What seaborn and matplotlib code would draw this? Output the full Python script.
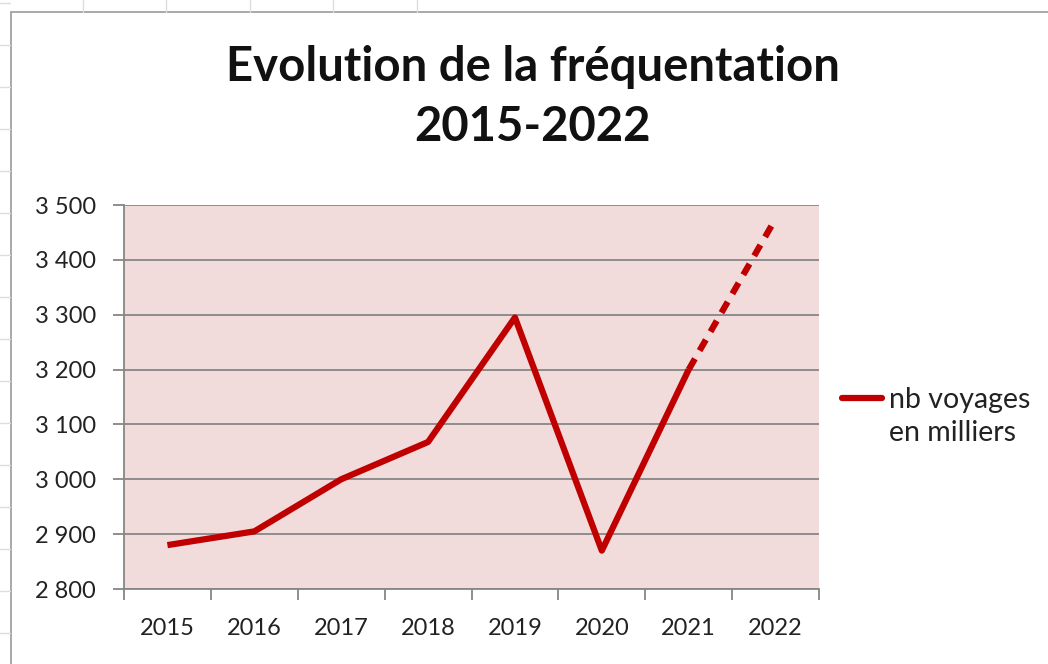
import matplotlib
matplotlib.use("Agg")
import matplotlib.pyplot as plt
import seaborn as sns
import numpy as np
import pandas as pd
from matplotlib.patches import Rectangle
from matplotlib.lines import Line2D
from matplotlib.ticker import FixedLocator, FuncFormatter

# ---- data ----
years = ["2015", "2016", "2017", "2018", "2019", "2020", "2021", "2022"]
voyages = [2880, 2905, 3000, 3068, 3295, 2870, 3200, 3475]
legend_lines = ["nb voyages", "en milliers"]
title = "Evolution de la fréquentation\n2015-2022"
y_ticks = [2800, 2900, 3000, 3100, 3200, 3300, 3400, 3500]

sns.set_theme(style="white")
plt.rcParams["font.family"] = ["Lato", "DejaVu Sans"]

W, H = 1048, 664
fig = plt.figure(figsize=(W / 100, H / 100), dpi=100)

# chart-area border and faint sheet gridline stubs
fig.patches.append(Rectangle((11 / W, -0.05), 1.2, 1 - 12 / H + 0.05,
                             transform=fig.transFigure, fill=False,
                             edgecolor="#9a9a9a", linewidth=1.2, zorder=0))
for xs in [83, 166, 250, 333, 417]:
    fig.add_artist(Line2D([xs / W, xs / W], [1 - 12 / H, 1], transform=fig.transFigure,
                          color="#dddddd", linewidth=1))
for ys in np.arange(3, 664, 42):
    fig.add_artist(Line2D([0, 10 / W], [1 - ys / H, 1 - ys / H], transform=fig.transFigure,
                          color="#dddddd", linewidth=1))

left, right, top, bottom = 124 / W, 819 / W, 1 - 205 / H, 1 - 589 / H
ax = fig.add_axes([left, bottom, right - left, top - bottom])
ax.set_facecolor("#F2DCDB")

xpos = np.arange(len(years))
df = pd.DataFrame({"x": xpos, "y": voyages})
red = "#C00000"
solid = df.iloc[:7]
dashed = df.iloc[6:]
sns.lineplot(data=solid, x="x", y="y", ax=ax, color=red, linewidth=4.5,
             solid_capstyle="butt", zorder=3)
sns.lineplot(data=dashed, x="x", y="y", ax=ax, color=red, linewidth=4.5,
             linestyle=(0, (2.0, 1.5)), dash_capstyle="butt", zorder=3)

ax.set_xlim(-0.5, len(years) - 0.5)
ax.set_ylim(2800, 3500)
ax.yaxis.set_major_locator(FixedLocator(y_ticks))
ax.yaxis.set_major_formatter(FuncFormatter(lambda v, p: f"{int(v):,}".replace(",", " ")))
ax.grid(axis="y", color="#868686", linewidth=1.3)
ax.set_axisbelow(True)

ax.xaxis.set_major_locator(FixedLocator(np.arange(-0.5, len(years), 1.0)))
ax.xaxis.set_minor_locator(FixedLocator(xpos))
ax.set_xticklabels([""] * (len(years) + 1))
ax.set_xticklabels(years, minor=True)
ax.tick_params(axis="x", which="major", length=8, width=1.3, color="#868686",
               direction="out", bottom=True)
ax.tick_params(axis="x", which="minor", length=0, labelsize=17, pad=21,
               labelcolor="#222222")
ax.tick_params(axis="y", which="major", length=8, width=1.3, color="#868686",
               direction="out", left=True, labelsize=17, pad=12, labelcolor="#222222")

for s in ["top", "right"]:
    ax.spines[s].set_visible(False)
for s in ["left", "bottom"]:
    ax.spines[s].set_color("#868686")
    ax.spines[s].set_linewidth(1.3)
ax.set_xlabel("")
ax.set_ylabel("")

fig.text(533 / W, 1 - 97 / H, title, ha="center", va="center", fontsize=34,
         fontweight="bold", color="#111111", linespacing=1.42)

handle = Line2D([], [], color=red, linewidth=4.5)
blank = Line2D([], [], color="none", linewidth=0)
fig.legend([handle, blank], legend_lines, loc="upper left",
           bbox_to_anchor=(842 / W, 1 - 387 / H), frameon=False, fontsize=20.5,
           handlelength=1.4, handletextpad=0.25, labelspacing=0.25,
           borderaxespad=0, borderpad=0, labelcolor="#222222")

fig.savefig("out.png", dpi=100)
